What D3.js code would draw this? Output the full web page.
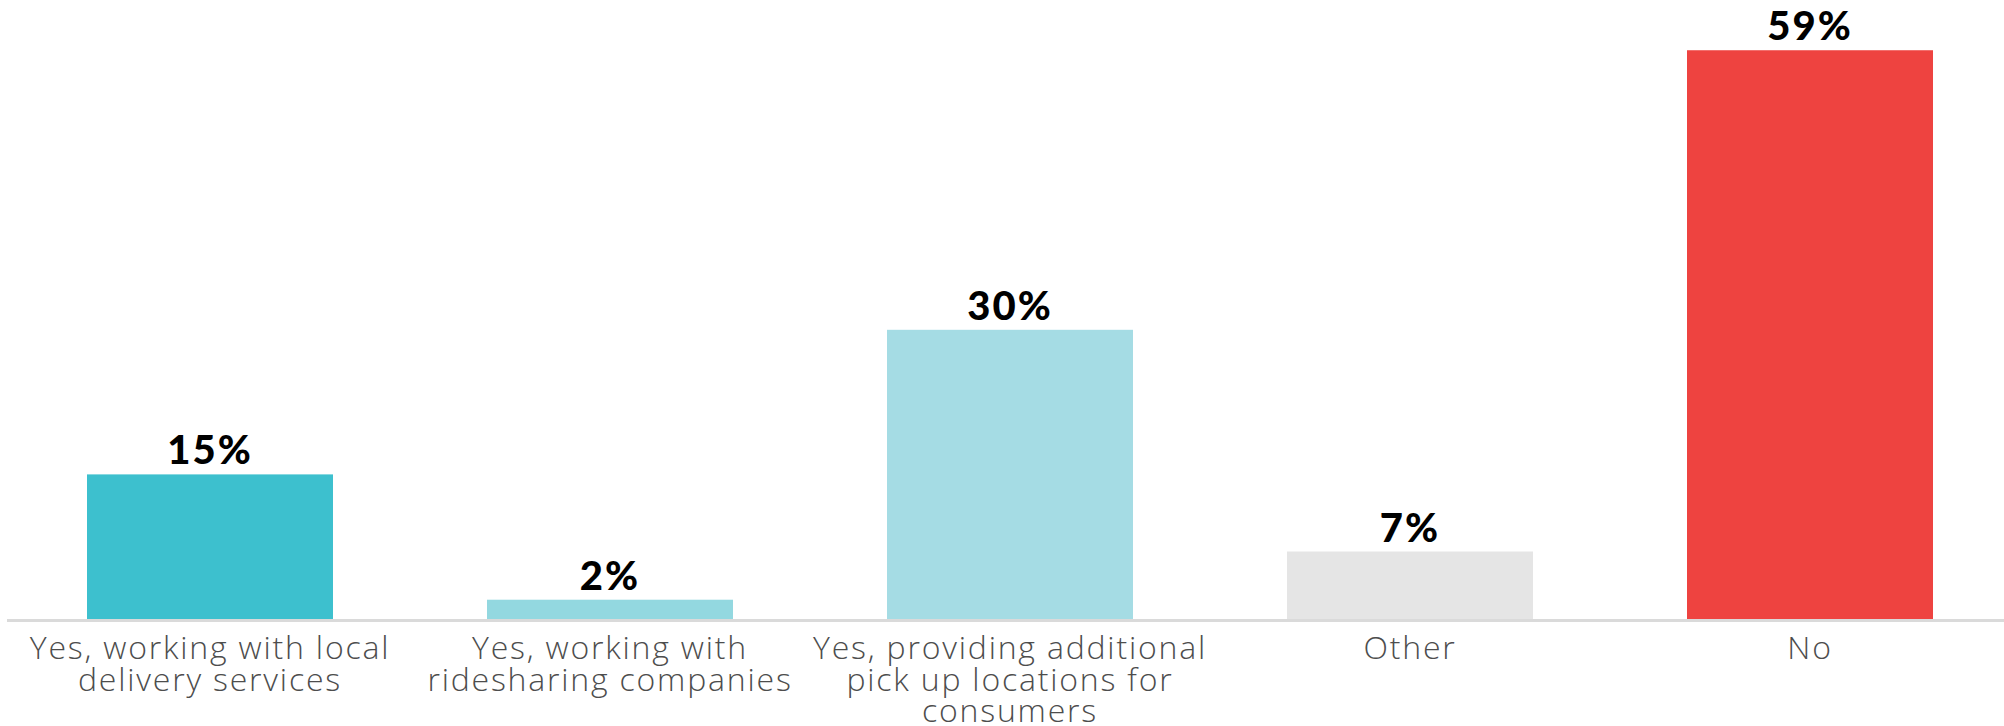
<!DOCTYPE html>
<html>
<head>
<meta charset="utf-8">
<script src="https://cdn.jsdelivr.net/npm/d3@7/dist/d3.min.js"></script>
<style>
  html, body { margin: 0; padding: 0; background: #fff; }
  svg { display: block; }
</style>
</head>
<body>
<svg id="chart" width="2004" height="726"></svg>
<script>
// Survey responses: share of respondents per answer
const categories = [
  "Yes, working with local delivery services",
  "Yes, working with ridesharing companies",
  "Yes, providing additional pick up locations for consumers",
  "Other",
  "No"
];
const labelLines = [
  ["Yes, working with local", "delivery services"],
  ["Yes, working with", "ridesharing companies"],
  ["Yes, providing additional", "pick up locations for", "consumers"],
  ["Other"],
  ["No"]
];
const values = [15, 2, 30, 7, 59];
const colors = ["#3DC0CE", "#93D8E0", "#A5DCE4", "#E5E5E5", "#EE4340"];

const width = 2004, height = 726;
const baseline = 619;

const svg = d3.select("#chart");

const x = d3.scaleBand()
  .domain(categories)
  .range([10, 2010])
  .paddingInner(0.385)
  .paddingOuter(0.1925);

const y = d3.scaleLinear()
  .domain([0, 64])
  .range([baseline, baseline - 64 * 9.64]);

// bars
svg.append("g")
  .selectAll("rect")
  .data(values)
  .join("rect")
  .attr("x", (d, i) => x(categories[i]))
  .attr("y", d => y(d))
  .attr("width", x.bandwidth())
  .attr("height", d => baseline - y(d))
  .attr("fill", (d, i) => colors[i]);

// baseline rule
svg.append("line")
  .attr("x1", 7)
  .attr("x2", width)
  .attr("y1", baseline + 1.5)
  .attr("y2", baseline + 1.5)
  .attr("stroke", "#DADADA")
  .attr("stroke-width", 3);

// value labels
svg.append("g")
  .selectAll("text")
  .data(values)
  .join("text")
  .attr("x", (d, i) => x(categories[i]) + x.bandwidth() / 2)
  .attr("y", d => y(d) - 10)
  .attr("text-anchor", "middle")
  .attr("font-family", "Lato, 'Open Sans', sans-serif")
  .attr("font-weight", 900)
  .attr("font-size", 40)
  .attr("letter-spacing", 2)
  .attr("fill", "#000")
  .text(d => d + "%");

// category labels
const cat = svg.append("g")
  .selectAll("text")
  .data(categories)
  .join("text")
  .attr("x", d => x(d) + x.bandwidth() / 2)
  .attr("y", 659)
  .attr("text-anchor", "middle")
  .attr("font-family", "'Open Sans', sans-serif")
  .attr("font-weight", 300)
  .attr("font-size", 32)
  .attr("letter-spacing", 1.8)
  .attr("fill", "#4D4D4D");

cat.each(function(d, i) {
  const t = d3.select(this);
  labelLines[i].forEach((line, j) => {
    t.append("tspan")
      .attr("x", x(d) + x.bandwidth() / 2)
      .attr("dy", j === 0 ? 0 : 31.5)
      .text(line);
  });
});
</script>
</body>
</html>
